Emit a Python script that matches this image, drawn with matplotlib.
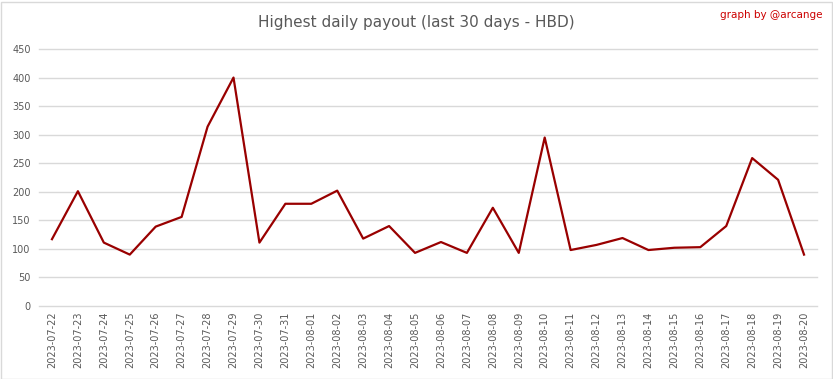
import matplotlib.pyplot as plt
from matplotlib.patches import Rectangle

dates = ["2023-07-22", "2023-07-23", "2023-07-24", "2023-07-25", "2023-07-26",
         "2023-07-27", "2023-07-28", "2023-07-29", "2023-07-30", "2023-07-31",
         "2023-08-01", "2023-08-02", "2023-08-03", "2023-08-04", "2023-08-05",
         "2023-08-06", "2023-08-07", "2023-08-08", "2023-08-09", "2023-08-10",
         "2023-08-11", "2023-08-12", "2023-08-13", "2023-08-14", "2023-08-15",
         "2023-08-16", "2023-08-17", "2023-08-18", "2023-08-19", "2023-08-20"]
payout = [117, 201, 111, 90, 139, 156, 314, 400, 111, 179,
          179, 202, 118, 140, 93, 112, 93, 172, 93, 295,
          98, 107, 119, 98, 102, 103, 140, 259, 221, 90]
y_ticks = [0, 50, 100, 150, 200, 250, 300, 350, 400, 450]

fig = plt.figure(figsize=(8.33, 3.79), dpi=100)
ax = fig.add_axes([39 / 833, 1 - 306 / 379, (817 - 39) / 833, (306 - 49) / 379])

x = list(range(len(dates)))
ax.plot(x, payout, color="#990000", lw=1.6, zorder=3)

ax.set_xlim(-0.5, len(dates) - 0.5)
ax.set_ylim(0, 450)
ax.set_yticks(y_ticks)
ax.set_xticks(x)
ax.set_xticklabels(dates, rotation=90)
ax.tick_params(axis="both", length=0, labelsize=7, colors="#595959")
ax.tick_params(axis="y", pad=6)
ax.tick_params(axis="x", pad=4)
ax.grid(axis="y", color="#d9d9d9", lw=1)
for gl in ax.get_ygridlines():
    gl.set_clip_on(False)
ax.set_axisbelow(True)
for s in ax.spines.values():
    s.set_visible(False)

fig.text(0.5, 1 - 22 / 379, "Highest daily payout (last 30 days - HBD)",
         ha="center", va="center", fontsize=11, color="#595959")
fig.text(822 / 833, 1 - 15 / 379, "graph by @arcange", ha="right", va="center",
         fontsize=7.5, color="#cc0000")

fig.patches.append(Rectangle((0.5 / 833, 0.5 / 379), 831 / 833, 377 / 379,
                             transform=fig.transFigure, fill=False,
                             edgecolor="#d9d9d9", lw=1))

fig.savefig("out.png", dpi=100)
